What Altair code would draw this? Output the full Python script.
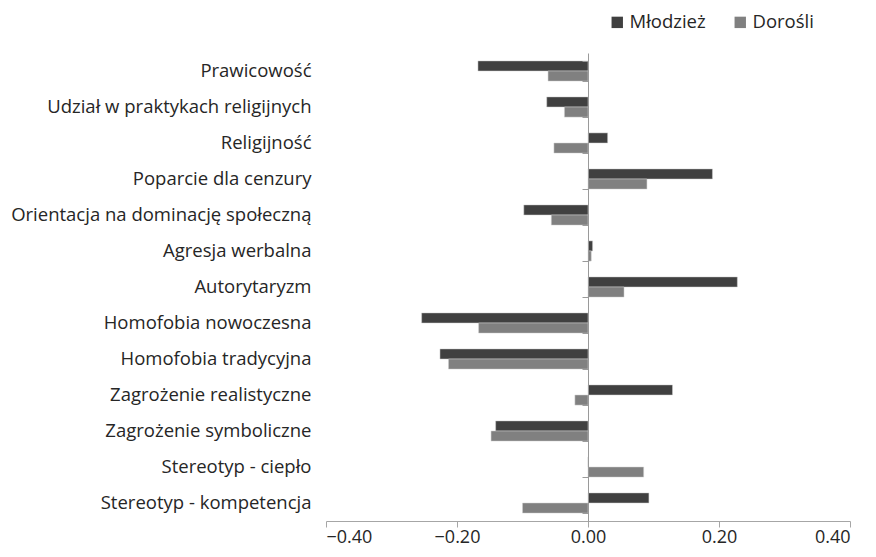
import altair as alt
import pandas as pd

categories = [
    "Prawicowość",
    "Udział w praktykach religijnych",
    "Religijność",
    "Poparcie dla cenzury",
    "Orientacja na dominację społeczną",
    "Agresja werbalna",
    "Autorytaryzm",
    "Homofobia nowoczesna",
    "Homofobia tradycyjna",
    "Zagrożenie realistyczne",
    "Zagrożenie symboliczne",
    "Stereotyp - ciepło",
    "Stereotyp - kompetencja",
]
mlodziez = [-0.168, -0.063, 0.030, 0.190, -0.098, 0.007, 0.228, -0.254, -0.226, 0.129, -0.141, 0.0, 0.093]
dorosli = [-0.061, -0.036, -0.052, 0.090, -0.056, 0.005, 0.055, -0.167, -0.213, -0.020, -0.148, 0.085, -0.100]
groups = ["Młodzież", "Dorośli"]
colors = ["#404040", "#808080"]
x_ticks = [-0.4, -0.2, 0.0, 0.2, 0.4]

rows = []
for c, m, d in zip(categories, mlodziez, dorosli):
    rows.append({"cat": c, "group": groups[0], "value": m})
    rows.append({"cat": c, "group": groups[1], "value": d})
df = pd.DataFrame(rows)

font = "Open Sans"
txt = "#262626"
fs = 18.5

xscale = alt.Scale(domain=[-0.4, 0.4], nice=False)
xaxis = alt.Axis(values=x_ticks, format=".2f", title=None, grid=False,
                 domainColor="#a6a6a6", tickColor="#a6a6a6", tickSize=6,
                 labelFontSize=18, labelColor=txt, labelFont=font, labelPadding=1)
yscale = alt.Scale(domain=categories, paddingInner=0.44, paddingOuter=0.22)

bars = alt.Chart(df).mark_bar(stroke="#d0d0d0", strokeWidth=0.5).encode(
    x=alt.X("value:Q", scale=xscale, axis=xaxis),
    y=alt.Y("cat:N", scale=yscale, sort=categories,
            axis=alt.Axis(title=None, domain=False, ticks=False, labelFontSize=fs,
                          labelColor=txt, labelFont=font, labelPadding=15, labelLimit=400)),
    yOffset=alt.YOffset("group:N", sort=groups, scale=alt.Scale(domain=groups, paddingInner=0, paddingOuter=0)),
    color=alt.Color("group:N", sort=groups,
                    scale=alt.Scale(domain=groups, range=colors),
                    legend=alt.Legend(title=None, orient="none", direction="horizontal",
                                      legendX=282, legendY=-40, symbolType="square",
                                      symbolSize=130, symbolStrokeWidth=0, columnPadding=25,
                                      labelOffset=3,
                                      labelFontSize=fs, labelFont=font, labelColor=txt)),
)

axis_layer = alt.Chart(df).mark_point(opacity=0).encode(
    x=alt.X("value:Q", scale=xscale, axis=xaxis),
    y=alt.Y("cat:N", scale=yscale, sort=categories,
            axis=alt.Axis(orient="left", title=None, labels=False, domain=True, ticks=True,
                          tickBand="extent", tickSize=6, offset=-262, zindex=1,
                          domainColor="#9a9a9a", tickColor="#9a9a9a")),
)

chart = alt.layer(bars, axis_layer).resolve_axis(y="independent").properties(
    width=524, height=468,
    autosize=alt.AutoSizeParams(type="none"),
    padding={"left": 318, "top": 45, "right": 18, "bottom": 27},
).configure_view(stroke=None)

chart.save("out.html", embed_options={"renderer": "svg", "actions": False})
